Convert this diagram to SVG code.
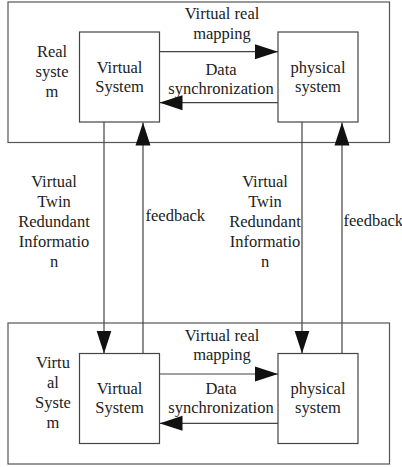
<svg xmlns="http://www.w3.org/2000/svg" width="402" height="467" viewBox="0 0 402 467">
<style>
.frame{fill:none;stroke:#555;stroke-width:1.2}
.box{fill:#fff;stroke:#444;stroke-width:1.2}
.ln{fill:none;stroke:#444;stroke-width:1.2}
text{font-family:'Liberation Serif','DejaVu Serif',serif;font-size:16.5px;fill:#222;text-anchor:middle}
.l{text-anchor:start}
</style>
<defs>
<marker id="ah" markerUnits="userSpaceOnUse" markerWidth="23" markerHeight="16" viewBox="0 0 23 16" refX="23" refY="8" orient="auto">
<path d="M0,0.5 L23,8 L0,15.5 z" fill="#111"/>
</marker>
</defs>
<rect width="402" height="467" fill="#fff"/>
<g id="real-system" font-family="Liberation Serif, serif">
<rect class="frame" x="8" y="2" width="381.5" height="140.5"/>
<text x="52" y="57.3">Real</text>
<text x="52" y="77">syste</text>
<text x="52" y="96.7">m</text>
</g>
<g id="virtual-system-frame">
<rect class="frame" x="8" y="323" width="381.5" height="141"/>
<text x="53" y="368.3">Virtu</text>
<text x="53" y="388.3">al</text>
<text x="53" y="408.3">Syste</text>
<text x="53" y="428.3">m</text>
</g>
<g id="top-virtual">
<rect class="box" x="79.5" y="32" width="80" height="90"/>
<text x="119.5" y="72.7">Virtual</text>
<text x="119.5" y="92.3">System</text>
</g>
<g id="top-physical">
<rect class="box" x="278" y="32" width="80" height="90"/>
<text x="318" y="72.7">physical</text>
<text x="318" y="92.3">system</text>
</g>
<g id="bottom-virtual">
<rect class="box" x="79.5" y="353.5" width="80" height="90"/>
<text x="119.5" y="394">Virtual</text>
<text x="119.5" y="413.3">System</text>
</g>
<g id="bottom-physical">
<rect class="box" x="278" y="353.5" width="80" height="90"/>
<text x="318" y="394">physical</text>
<text x="318" y="413.3">system</text>
</g>
<g id="connectors">
<line class="ln" x1="159.5" y1="51.7" x2="278" y2="51.7" marker-end="url(#ah)"/>
<line class="ln" x1="278" y1="102.7" x2="159.5" y2="102.7" marker-end="url(#ah)"/>
<line class="ln" x1="159.5" y1="374" x2="278" y2="374" marker-end="url(#ah)"/>
<line class="ln" x1="278" y1="423.3" x2="159.5" y2="423.3" marker-end="url(#ah)"/>
<line class="ln" x1="104" y1="122" x2="104" y2="353.5" marker-end="url(#ah)"/>
<line class="ln" x1="143" y1="353.5" x2="143" y2="122.5" marker-end="url(#ah)"/>
<line class="ln" x1="302" y1="122" x2="302" y2="353.5" marker-end="url(#ah)"/>
<line class="ln" x1="342" y1="353.5" x2="342" y2="122.5" marker-end="url(#ah)"/>
</g>
<g id="labels">
<text x="222" y="19.3">Virtual real</text>
<text x="222" y="38.5">mapping</text>
<text x="221" y="75">Data</text>
<text x="221" y="94.3">synchronization</text>
<text x="222" y="340.7">Virtual real</text>
<text x="222" y="360">mapping</text>
<text x="221" y="394.3">Data</text>
<text x="221" y="413.3">synchronization</text>
<text x="54" y="186.7">Virtual</text>
<text x="54" y="206.7">Twin</text>
<text x="54" y="226.7">Redundant</text>
<text x="54" y="246.7">Informatio</text>
<text x="54" y="266.7">n</text>
<text class="l" x="145.5" y="221.3">feedback</text>
<text x="265" y="186.7">Virtual</text>
<text x="265" y="206.7">Twin</text>
<text x="265" y="226.7">Redundant</text>
<text x="265" y="246.7">Informatio</text>
<text x="265" y="266.7">n</text>
<text class="l" x="343.5" y="226">feedback</text>
</g>
</svg>
